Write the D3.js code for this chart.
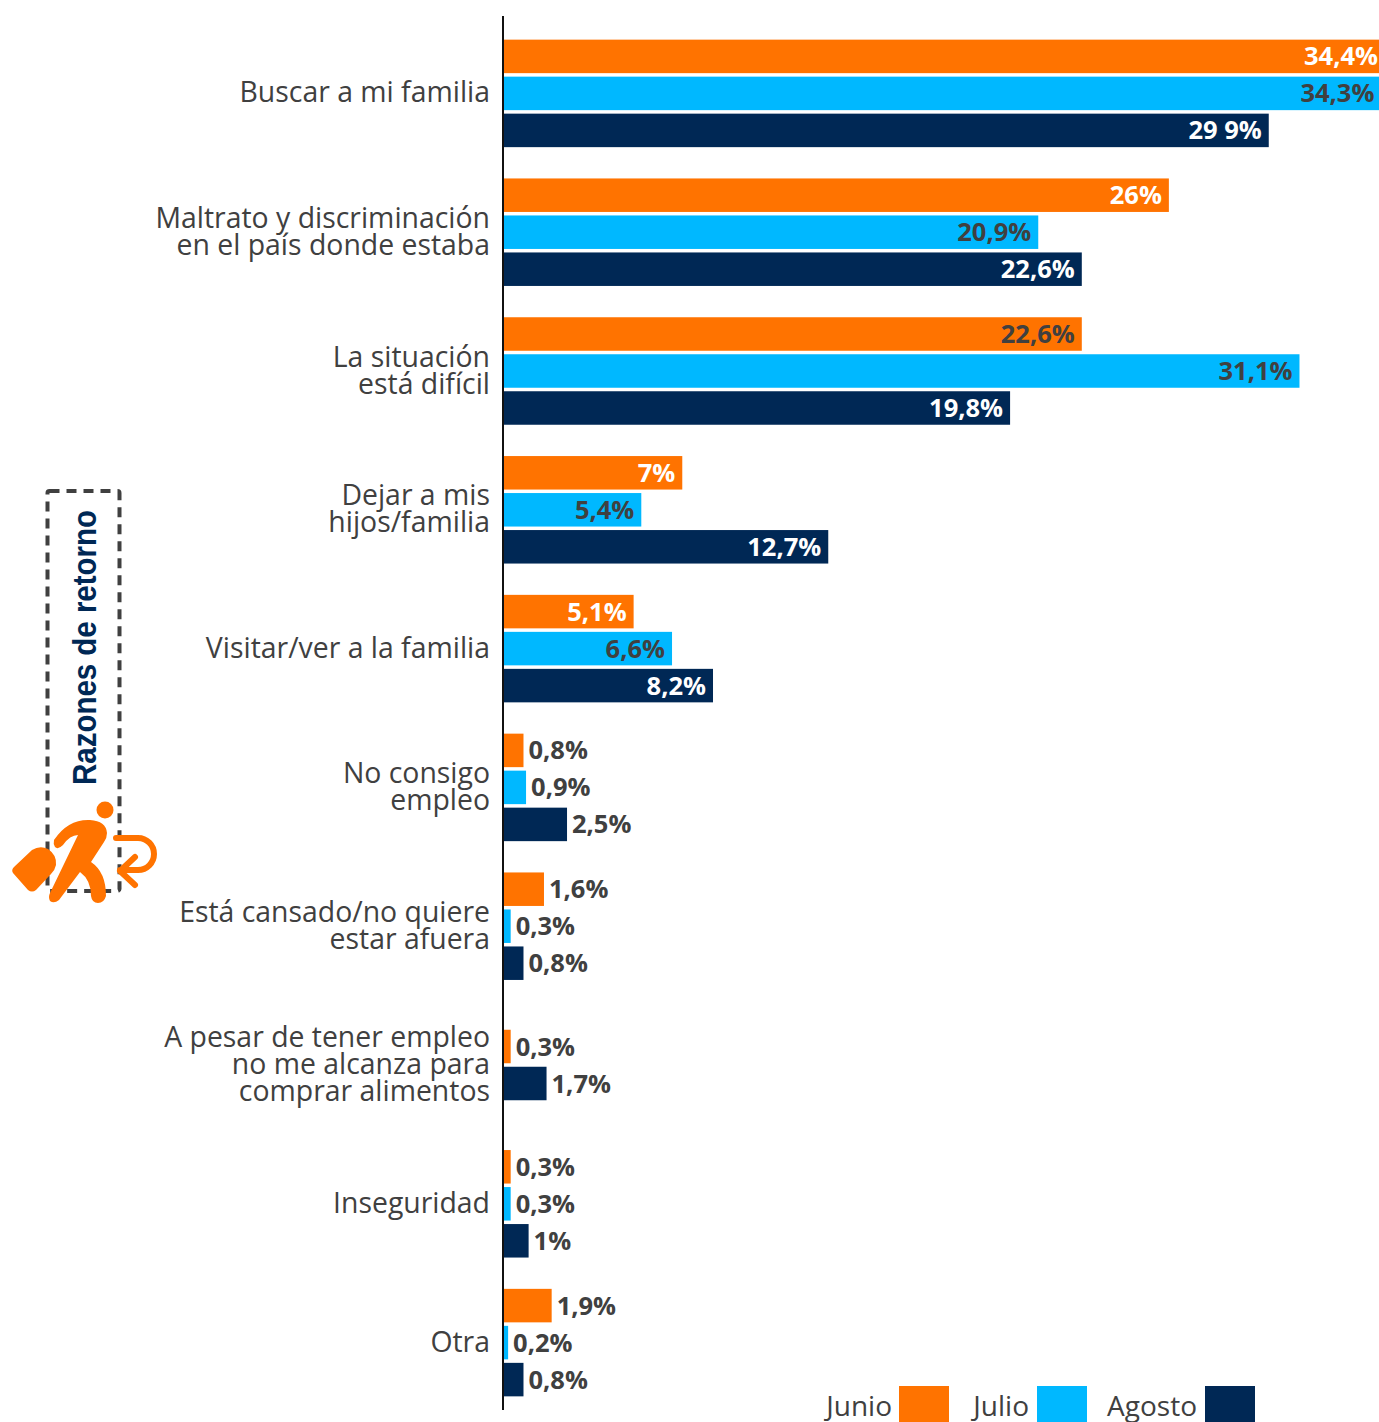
<!DOCTYPE html>
<html lang="es">
<head>
<meta charset="utf-8">
<script src="https://cdn.jsdelivr.net/npm/d3@7"></script>
<style>
  html, body { margin: 0; padding: 0; background: #fff; overflow: hidden; }
  svg { display: block; font-family: "Open Sans", sans-serif; }
</style>
</head>
<body>
<div id="chart"></div>
<script>
// categories, "|" marks the line breaks of the axis labels
const categories = [
  "Buscar a mi familia",
  "Maltrato y discriminación|en el país donde estaba",
  "La situación|está difícil",
  "Dejar a mis|hijos/familia",
  "Visitar/ver a la familia",
  "No consigo|empleo",
  "Está cansado/no quiere|estar afuera",
  "A pesar de tener empleo|no me alcanza para|comprar alimentos",
  "Inseguridad",
  "Otra"
];
const seriesNames = ["Junio", "Julio", "Agosto"];
const junio = [34.4, 26, 22.6, 7, 5.1, 0.8, 1.6, 0.3, 0.3, 1.9];
const julio = [34.3, 20.9, 31.1, 5.4, 6.6, 0.9, 0.3, null, 0.3, 0.2];
const agosto = [29.9, 22.6, 19.8, 12.7, 8.2, 2.5, 0.8, 1.7, 1, 0.8];
const junioLabels = ["34,4%", "26%", "22,6%", "7%", "5,1%", "0,8%", "1,6%", "0,3%", "0,3%", "1,9%"];
const julioLabels = ["34,3%", "20,9%", "31,1%", "5,4%", "6,6%", "0,9%", "0,3%", null, "0,3%", "0,2%"];
const agostoLabels = ["29 9%", "22,6%", "19,8%", "12,7%", "8,2%", "2,5%", "0,8%", "1,7%", "1%", "0,8%"];
const axisTitle = "Razones de retorno";

const width = 1379, height = 1422;
const margin = {top: 16, left: 503};
const barStep = 37, barHeight = 33.5;
const textColor = "#404040";
const seriesColor = d3.scaleOrdinal().domain(seriesNames).range(["#FF7300", "#00B8FF", "#002855"]);
const seriesValues = [junio, julio, agosto];
const seriesLabels = [junioLabels, julioLabels, agostoLabels];

const svg = d3.select("#chart").append("svg").attr("width", width).attr("height", height);
const root = svg.append("g").attr("transform", "translate(" + margin.left + "," + margin.top + ")");

let xScale = d3.scaleLinear().domain([0, 34.4]).range([0, 881]);
let yScale = d3.scaleBand().domain(categories).range([8, 1396]);

// category axis, the tick text is rebuilt below because of the multi line labels
let yAxis = d3.axisLeft(yScale).tickSize(0).tickPadding(13).tickFormat(d => "");
let axisG = root.append("g").attr("class", "yAxis").call(yAxis);
axisG.select(".domain").remove();
axisG.selectAll(".tick text").each(function(d){
  let lines = d.split("|");
  let text = d3.select(this)
    .attr("font-family", '"Open Sans", sans-serif')
    .attr("font-size", 28.4)
    .attr("font-weight", 500)
    .attr("fill", textColor)
    .attr("dy", null)
    .attr("y", 0);
  lines.forEach((line, i) => {
    text.append("tspan")
      .attr("x", -13)
      .attr("y", (i - (lines.length - 1) / 2) * 27 + 9)
      .text(line);
  });
});

let groups = root.selectAll(".group").data(categories).enter().append("g")
  .attr("class", "group")
  .attr("transform", d => "translate(0," + (yScale(d) + yScale.bandwidth() / 2) + ")");

groups.each(function(cat, c){
  let present = seriesNames.filter((s, k) => seriesValues[k][c] !== null);
  let inner = d3.scaleBand().domain(present)
    .range([-present.length * barStep / 2, present.length * barStep / 2])
    .paddingInner(1 - barHeight / barStep)
    .paddingOuter((1 - barHeight / barStep) / 2);
  let group = d3.select(this);
  present.forEach(name => {
    let k = seriesNames.indexOf(name);
    let value = seriesValues[k][c];
    let barWidth = xScale(value);
    group.append("rect")
      .attr("x", 0)
      .attr("y", inner(name))
      .attr("width", barWidth)
      .attr("height", inner.bandwidth())
      .attr("fill", seriesColor(name));
    let inside = value > 4;
    let dark = k === 1 || (k === 0 && c === 2) || !inside;
    let labelEnd = k === 0 && barWidth > width - margin.left ? width - margin.left - 1 : barWidth - 7;
    group.append("text")
      .attr("x", inside ? labelEnd : barWidth + 5)
      .attr("y", inner(name) + inner.bandwidth() / 2 + 9)
      .attr("text-anchor", inside ? "end" : "start")
      .attr("font-size", 25.5)
      .attr("font-weight", 700)
      .attr("fill", dark ? textColor : "#fff")
      .text(seriesLabels[k][c]);
  });
});

// axis line runs the full height of the plot
root.append("line")
  .attr("x1", 0).attr("x2", 0)
  .attr("y1", 0).attr("y2", 1394)
  .attr("stroke", "#111")
  .attr("stroke-width", 2);

// legend
let legendItems = [
  {name: "Junio", textEnd: 892, swatch: 899},
  {name: "Julio", textEnd: 1029, swatch: 1037},
  {name: "Agosto", textEnd: 1197, swatch: 1205}
];
let legend = svg.append("g").attr("class", "legend");
legend.selectAll("rect").data(legendItems).enter().append("rect")
  .attr("x", d => d.swatch).attr("y", 1386)
  .attr("width", 50).attr("height", 36)
  .attr("fill", d => seriesColor(d.name));
legend.selectAll("text").data(legendItems).enter().append("text")
  .attr("x", d => d.textEnd).attr("y", 1416)
  .attr("text-anchor", "end")
  .attr("font-size", 28)
  .attr("font-weight", 500)
  .attr("fill", textColor)
  .text(d => d.name);

// dashed box with the rotated title
let side = svg.append("g").attr("class", "side");
side.append("rect")
  .attr("x", 47.5).attr("y", 491)
  .attr("width", 72).attr("height", 400)
  .attr("rx", 2)
  .attr("fill", "none")
  .attr("stroke", textColor)
  .attr("stroke-width", 4)
  .attr("stroke-dasharray", "10 7");
side.append("text")
  .attr("transform", "translate(96,785) rotate(-90)")
  .attr("font-family", '"Liberation Sans", sans-serif')
  .attr("font-weight", 700)
  .attr("font-size", 34)
  .attr("textLength", 275)
  .attr("lengthAdjust", "spacingAndGlyphs")
  .attr("fill", "#002855")
  .text(axisTitle);

// returning traveller icon
let icon = svg.append("g").attr("class", "icon");
let orange = "#FF7300";
icon.append("circle").attr("cx", 105).attr("cy", 810).attr("r", 8.5).attr("fill", orange);
icon.append("path")
  .attr("d", "M13,873 Q11,870 14,867 L32,850 Q40,845 48,849 Q57,855 56,865 Q55,870 51,874 L36,890 Q32,893 28,890 Z")
  .attr("fill", orange);
icon.append("path")
  .attr("d", "M54,840 Q68,819 90,820 Q106,821 107,833 Q107,838 104,842 L91,862 Q106,872 106,896 Q104,903 98,903 Q92,903 91,896 Q91,880 80,872 L59,900 Q54,904 50,901 Q48,897 50,893 L78,835 Q70,835 63,845 Q58,850 55,847 Q53,844 54,840 Z")
  .attr("fill", orange);
icon.append("path")
  .attr("d", "M116,838 L138,838 A16,16 0 0 1 138,870 L120,870 M135,857 L120,871 L135,885")
  .attr("fill", "none")
  .attr("stroke", orange)
  .attr("stroke-width", 6)
  .attr("stroke-linecap", "round")
  .attr("stroke-linejoin", "round");
</script>
</body>
</html>
